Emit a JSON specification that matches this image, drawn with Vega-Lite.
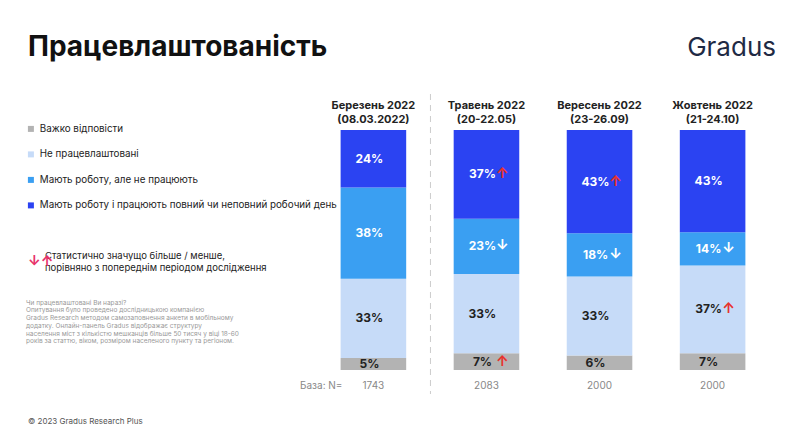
{
"$schema":"https://vega.github.io/schema/vega-lite/v6.json",
"autosize":{"type":"none"},
"width":450,"height":240,
"padding":{"left":318,"top":130,"right":32,"bottom":78},
"background":"#ffffff",
"config":{"view":{"stroke":null},"font":"Inter"},
"datasets":{
"bars":[
{"wave":"Березень 2022|(08.03.2022)","cat":"Важко відповісти","ord":1,"v":5,"arrow":""},
{"wave":"Березень 2022|(08.03.2022)","cat":"Не працевлаштовані","ord":2,"v":33,"arrow":""},
{"wave":"Березень 2022|(08.03.2022)","cat":"Мають роботу, але не працюють","ord":3,"v":38,"arrow":""},
{"wave":"Березень 2022|(08.03.2022)","cat":"Мають роботу і працюють повний чи неповний робочий день","ord":4,"v":24,"arrow":""},
{"wave":"Травень 2022|(20-22.05)","cat":"Важко відповісти","ord":1,"v":7,"arrow":"↑"},
{"wave":"Травень 2022|(20-22.05)","cat":"Не працевлаштовані","ord":2,"v":33,"arrow":""},
{"wave":"Травень 2022|(20-22.05)","cat":"Мають роботу, але не працюють","ord":3,"v":23,"arrow":"↓"},
{"wave":"Травень 2022|(20-22.05)","cat":"Мають роботу і працюють повний чи неповний робочий день","ord":4,"v":37,"arrow":"↑"},
{"wave":"Вересень 2022|(23-26.09)","cat":"Важко відповісти","ord":1,"v":6,"arrow":""},
{"wave":"Вересень 2022|(23-26.09)","cat":"Не працевлаштовані","ord":2,"v":33,"arrow":""},
{"wave":"Вересень 2022|(23-26.09)","cat":"Мають роботу, але не працюють","ord":3,"v":18,"arrow":"↓"},
{"wave":"Вересень 2022|(23-26.09)","cat":"Мають роботу і працюють повний чи неповний робочий день","ord":4,"v":43,"arrow":"↑"},
{"wave":"Жовтень 2022|(21-24.10)","cat":"Важко відповісти","ord":1,"v":7,"arrow":""},
{"wave":"Жовтень 2022|(21-24.10)","cat":"Не працевлаштовані","ord":2,"v":37,"arrow":"↑"},
{"wave":"Жовтень 2022|(21-24.10)","cat":"Мають роботу, але не працюють","ord":3,"v":14,"arrow":"↓"},
{"wave":"Жовтень 2022|(21-24.10)","cat":"Мають роботу і працюють повний чи неповний робочий день","ord":4,"v":43,"arrow":""}
],
"base":[
{"wave":"Березень 2022|(08.03.2022)","n":"1743"},
{"wave":"Травень 2022|(20-22.05)","n":"2083"},
{"wave":"Вересень 2022|(23-26.09)","n":"2000"},
{"wave":"Жовтень 2022|(21-24.10)","n":"2000"}
],
"notes":[
{"t":"Чи працевлаштовані Ви наразі?","y":0.28,"w":"bold"},
{"t":"Опитування було проведено дослідницькою компанією","y":0.248,"w":"normal"},
{"t":"Gradus Research методом самозаповнення анкети в мобільному","y":0.216,"w":"normal"},
{"t":"додатку. Онлайн-панель Gradus відображає структуру","y":0.184,"w":"normal"},
{"t":"населення міст з кількістю мешканців більше 50 тисяч у віці 18-60","y":0.152,"w":"normal"},
{"t":"років за статтю, віком, розміром населеного пункту та регіоном.","y":0.12,"w":"normal"}
],
"sig":[
{"t":"Статистично значущо більше / менше,","y":0.475},
{"t":"порівняно з попереднім періодом дослідження","y":0.425}
]
},
"layer":[
{"data":{"name":"bars"},
"transform":[{"stack":"v","groupby":["wave"],"sort":[{"field":"ord"}],"offset":"normalize","as":["y0","y1"]},
{"calculate":"(datum.y0+datum.y1)/2","as":"ym"},{"calculate":"datum.v+'%'","as":"lab"}],
"layer":[
{"mark":{"type":"bar"},
"encoding":{
"x":{"field":"wave","type":"nominal","sort":null,"scale":{"paddingInner":0.42,"paddingOuter":0.2},
"axis":{"orient":"top","title":null,"domain":false,"ticks":false,"labelExpr":"split(datum.value,'|')","labelFontSize":11,"labelFontWeight":"bold","labelColor":"#222","labelPadding":20,"labelAngle":0,"labelLineHeight":14}},
"y":{"field":"y0","type":"quantitative","scale":{"domain":[0,1]},"axis":null},
"y2":{"field":"y1"},
"color":{"field":"cat","type":"nominal","sort":["Важко відповісти","Не працевлаштовані","Мають роботу, але не працюють","Мають роботу і працюють повний чи неповний робочий день"],
"scale":{"range":["#b3b3b3","#c6dbf8","#3a9ff2","#2b43f2"]},
"legend":{"orient":"none","legendX":-292,"legendY":-6,"title":null,"symbolType":"square","symbolSize":36,"labelFontSize":9.8,"labelColor":"#222","rowPadding":14.5,"labelLimit":400}}}},
{"mark":{"type":"text","fontWeight":"bold","fontSize":12,"dx":-4},
"encoding":{"x":{"field":"wave","type":"nominal","sort":null},"y":{"field":"ym","type":"quantitative"},"text":{"field":"lab"},
"color":{"condition":{"test":"datum.ord<=2","value":"#222222"},"value":"#ffffff"}}},
{"mark":{"type":"text","fontWeight":"bold","fontSize":14,"dx":16},
"encoding":{"x":{"field":"wave","type":"nominal","sort":null},"y":{"field":"ym","type":"quantitative"},"text":{"field":"arrow"},
"color":{"condition":{"test":"datum.arrow=='↑'","value":"#e8322d"},"value":"#ffffff"}}}
]},
{"data":{"name":"base"},
"mark":{"type":"text","fontSize":10,"color":"#888888","dy":16},
"encoding":{"x":{"field":"wave","type":"nominal","sort":null},"y":{"datum":0},"text":{"field":"n"}}},
{"data":{"values":[{"wave":"Травень 2022|(20-22.05)"}]},
"mark":{"type":"rule","strokeDash":[6,5],"color":"#cccccc","xOffset":-56},
"encoding":{"x":{"field":"wave","type":"nominal","sort":null},"y":{"datum":1.15},"y2":{"datum":-0.1}}},
{"data":{"values":[{"t":"База: N="}]},
"mark":{"type":"text","fontSize":10,"color":"#888888","align":"left","x":-18,"dy":16},
"encoding":{"y":{"datum":0},"text":{"field":"t"}}},
{"data":{"name":"sig"},
"mark":{"type":"text","fontSize":9.5,"color":"#222","align":"left","x":-273},
"encoding":{"y":{"field":"y","type":"quantitative"},"text":{"field":"t"}}},
{"data":{"values":[{"t":"↓↑"}]},
"mark":{"type":"text","fontSize":14,"fontWeight":"bold","color":"#e8326b","align":"left","x":-290},
"encoding":{"y":{"datum":0.45},"text":{"field":"t"}}},
{"data":{"name":"notes"},
"mark":{"type":"text","fontSize":6.5,"color":"#999999","align":"left","x":-292},
"encoding":{"y":{"field":"y","type":"quantitative"},"text":{"field":"t"},"fontWeight":{"field":"w","type":"nominal","scale":null}}},
{"data":{"values":[{"t":"© 2023 Gradus Research Plus"}]},
"mark":{"type":"text","fontSize":8,"color":"#555","align":"left","x":-290,"dy":52},
"encoding":{"y":{"datum":0},"text":{"field":"t"}}},
{"data":{"values":[{"t":"Працевлаштованість"}]},
"mark":{"type":"text","fontSize":28,"fontWeight":"bold","color":"#111","align":"left","x":-290},
"encoding":{"y":{"datum":1.34},"text":{"field":"t"}}},
{"data":{"values":[{"t":"Gradus"}]},
"mark":{"type":"text","fontSize":26,"color":"#1f2a44","align":"right","x":458},
"encoding":{"y":{"datum":1.34},"text":{"field":"t"}}}
]
}
